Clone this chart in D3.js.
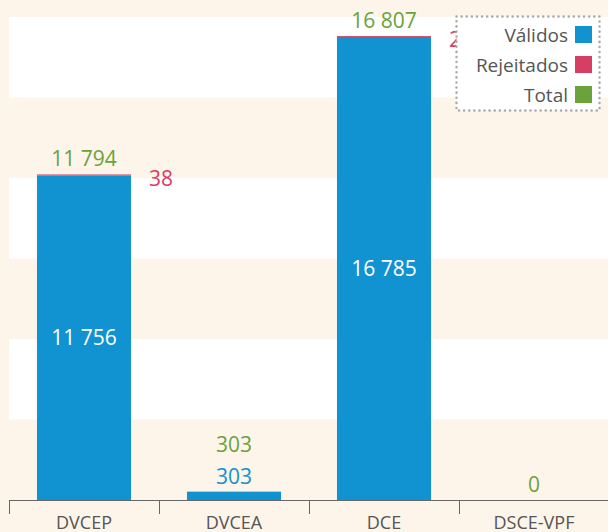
<!DOCTYPE html>
<html>
<head>
<meta charset="utf-8">
<script src="https://cdn.jsdelivr.net/npm/d3@7"></script>
<style>
    html, body { margin: 0; padding: 0; background: #fdf4ea; }
    svg { display: block; font-family: "Open Sans", sans-serif; }
</style>
</head>
<body>
<svg id="chart" width="608" height="532"></svg>
<script>
const categories = ["DVCEP", "DVCEA", "DCE", "DSCE-VPF"]
const validos = [11756, 303, 16785, 0]
const rejeitados = [38, 0, 22, 0]
const totals = [11794, 303, 16807, 0]
const legendNames = ["Válidos", "Rejeitados", "Total"]

const colors = { validos: "#1192d1", rejeitados: "#d63f63", total: "#6aa33c" }
const yMax = 17500
const bandCount = 6

const svg = d3.select("#chart")
const width = 608
const baseY = 500
const topY = 17

const fmt = d3.formatLocale({ decimal: ",", thousands: " ", grouping: [3], currency: ["", "€"] }).format(",d")

const x = d3.scaleBand()
    .domain(categories)
    .range([9, 609])

const y = d3.scaleLinear()
    .domain([0, yMax])
    .range([baseY, topY])

// background bands
const step = yMax / bandCount
const bands = d3.range(bandCount).map(i => ({ y0: i * step, y1: (i + 1) * step, i }))
svg.selectAll("rect.band")
    .data(bands.filter(d => d.i % 2 === 1))
    .enter()
    .append("rect")
    .attr("x", 9)
    .attr("width", width - 9)
    .attr("y", d => y(d.y1))
    .attr("height", d => y(d.y0) - y(d.y1))
    .attr("fill", "#ffffff")

const barW = x.bandwidth() * 0.627
const barX = c => x(c) + (x.bandwidth() - barW) / 2

const data = categories.map((c, i) => ({ c, v: validos[i], r: rejeitados[i], t: totals[i] }))

// valid bars
svg.selectAll("rect.val")
    .data(data)
    .enter()
    .append("rect")
    .attr("x", d => barX(d.c))
    .attr("width", barW)
    .attr("y", d => y(d.v))
    .attr("height", d => baseY - y(d.v))
    .attr("fill", colors.validos)

// rejected on top
svg.selectAll("rect.rej")
    .data(data.filter(d => d.r > 0))
    .enter()
    .append("rect")
    .attr("x", d => barX(d.c))
    .attr("width", barW)
    .attr("y", d => y(d.v + d.r))
    .attr("height", d => Math.max(1, y(d.v) - y(d.v + d.r)))
    .attr("fill", colors.rejeitados)

// labels for valid values
data.forEach(d => {
    if (d.v <= 0) return
    const h = baseY - y(d.v)
    const cx = x(d.c) + x.bandwidth() / 2
    if (h > 40) {
        svg.append("text")
            .attr("x", cx)
            .attr("y", (y(d.v) + baseY) / 2)
            .attr("dy", "0.35em")
            .attr("text-anchor", "middle")
            .attr("fill", "#ffffff")
            .attr("font-size", 21)
            .text(fmt(d.v))
    } else {
        svg.append("text")
            .attr("x", cx)
            .attr("y", y(d.v) - 8)
            .attr("text-anchor", "middle")
            .attr("fill", colors.validos)
            .attr("font-size", 21)
            .text(fmt(d.v))
    }
})

// total labels
data.forEach(d => {
    const cx = x(d.c) + x.bandwidth() / 2
    const small = d.v > 0 && baseY - y(d.v) <= 40
    svg.append("text")
        .attr("x", cx)
        .attr("y", y(d.t) - (small ? 40 : 8))
        .attr("text-anchor", "middle")
        .attr("fill", colors.total)
        .attr("font-size", 21)
        .text(fmt(d.t))
})

// rejected labels
data.filter(d => d.r > 0).forEach(d => {
    svg.append("text")
        .attr("x", barX(d.c) + barW + 30)
        .attr("y", y(d.t) + 4)
        .attr("dy", "0.35em")
        .attr("text-anchor", "middle")
        .attr("fill", colors.rejeitados)
        .attr("font-size", 21)
        .text(fmt(d.r))
})

// x axis
const axis = svg.append("g")
axis.append("line")
    .attr("x1", 9).attr("x2", width)
    .attr("y1", baseY + 0.5).attr("y2", baseY + 0.5)
    .attr("stroke", "#666")
axis.selectAll("line.tick")
    .data(categories)
    .enter()
    .append("line")
    .attr("x1", d => Math.round(x(d)) + 0.5)
    .attr("x2", d => Math.round(x(d)) + 0.5)
    .attr("y1", baseY)
    .attr("y2", baseY + 14)
    .attr("stroke", "#666")
axis.selectAll("text")
    .data(categories)
    .enter()
    .append("text")
    .attr("x", d => x(d) + x.bandwidth() / 2)
    .attr("y", 523)
    .attr("dy", "0.35em")
    .attr("text-anchor", "middle")
    .attr("fill", "#555")
    .attr("font-size", 18)
    .text(d => d)

// legend
const legend = svg.append("g")
legend.append("rect")
    .attr("x", 456.5).attr("y", 16.5)
    .attr("width", 143).attr("height", 94)
    .attr("fill", "#ffffff")
    .attr("stroke", "#aaa")
    .attr("stroke-width", 2.5)
    .attr("stroke-dasharray", "0.1 5")
    .attr("stroke-linecap", "round")
const legendColors = [colors.validos, colors.rejeitados, colors.total]
legendNames.forEach((name, i) => {
    const cy = 35 + i * 30
    legend.append("rect")
        .attr("x", 575).attr("y", cy - 9)
        .attr("width", 17).attr("height", 17)
        .attr("fill", legendColors[i])
    legend.append("text")
        .attr("x", 568).attr("y", cy)
        .attr("dy", "0.35em")
        .attr("text-anchor", "end")
        .attr("fill", "#555")
        .attr("font-size", 19)
        .text(name)
})
</script>
</body>
</html>
